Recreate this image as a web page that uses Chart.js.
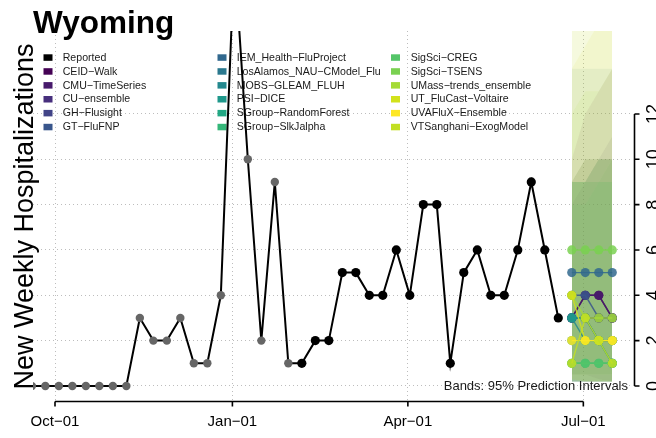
<!DOCTYPE html>
<html><head><meta charset="utf-8">
<script src="https://cdn.jsdelivr.net/npm/chart.js@4.4.1/dist/chart.umd.min.js"></script>
<style>html,body{margin:0;padding:0;background:#fff;}#wrap{width:656px;height:438px;}</style>
</head><body><div id="wrap"><canvas id="c" width="656" height="438"></canvas></div>
<script>
const regionName = "Wyoming";
const yAxisTitle = "New Weekly Hospitalizations";
const bandNote = "Bands: 95% Prediction Intervals";
const originDate = "2023-10-01";
const xTickDates = ["2023-10-01","2024-01-01","2024-04-01","2024-07-01"];
const xTickLabels = ["Oct\u221201","Jan\u221201","Apr\u221201","Jul\u221201"];
const yTicks = [0,2,4,6,8,10,12];

const reportedDates = ["2023-09-19","2023-09-26","2023-10-03","2023-10-10","2023-10-17","2023-10-24","2023-10-31","2023-11-07","2023-11-14","2023-11-21","2023-11-28","2023-12-05","2023-12-12","2023-12-19","2023-12-26","2024-01-02","2024-01-09","2024-01-16","2024-01-23","2024-01-30","2024-02-06","2024-02-13","2024-02-20","2024-02-27","2024-03-05","2024-03-12","2024-03-19","2024-03-26","2024-04-02","2024-04-09","2024-04-16","2024-04-23","2024-04-30","2024-05-07","2024-05-14","2024-05-21","2024-05-28","2024-06-04","2024-06-11","2024-06-18"];
const reportedValues = [0,0,0,0,0,0,0,0,3,2,2,3,1,1,4,19,10,2,9,1,1,2,2,5,5,4,4,6,4,8,8,1,5,6,4,4,6,9,6,3];
const firstBlackPoint = "2024-02-06";

const forecastDates = ["2024-06-25","2024-07-02","2024-07-09","2024-07-16"];
const models = ["CEID\u2212Walk","CMU\u2212TimeSeries","CU\u2212ensemble","GH\u2212Flusight","GT\u2212FluFNP","IEM_Health\u2212FluProject","LosAlamos_NAU\u2212CModel_Flu","MOBS\u2212GLEAM_FLUH","PSI\u2212DICE","SGroup\u2212RandomForest","SGroup\u2212SlkJalpha","SigSci\u2212CREG","SigSci\u2212TSENS","UMass\u2212trends_ensemble","UT_FluCast\u2212Voltaire","UVAFluX\u2212Ensemble","VTSanghani\u2212ExogModel"];
const modelColors = ["#440154","#481a6c","#472f7d","#414487","#39568c","#31688e","#2a788e","#23888e","#1f988b","#22a884","#35b779","#54c568","#7ad151","#a5db36","#d2e21b","#fde725","#c2df23"];

// point forecasts (median), one value per model, per horizon
const median_h1 = [3,3,3,3,4,5,3,3,3,2,1,1,6,4,4,2,1];
const median_h2 = [4,4,3,3,4,5,3,2,3,2,1,1,6,3,2,2,3];
const median_h3 = [4,4,3,2,3,5,2,2,2,2,1,1,6,3,2,2,2];
const median_h4 = [3,3,3,2,3,5,2,1,1,2,1,1,6,3,2,2,1];
// 95% prediction interval bounds
const lower95_h1 = [0.2,0.5,0.2,0.2,0.5,1,0.2,0.2,0.2,0.2,0.2,0.2,0.5,0.3,0.3,0.2,0.2];
const lower95_h2 = [0.2,0.5,0.2,0.2,0.5,1,0.2,0.2,0.2,0.2,0.2,0.2,0.5,0.2,0.2,0.2,0.2];
const lower95_h3 = [0.2,0.3,0.2,0.2,0.5,1,0.2,0.2,0.2,0.2,0.2,0.2,0.5,0.2,0.2,0.2,0.2];
const lower95_h4 = [0.2,0.2,0.2,0.2,0.5,1,0.2,0.2,0.2,0.2,0.2,0.2,0.5,0.2,0.2,0.2,0.2];
const upper95_h1 = [10,8,9,9,9,14,9,9,9,8,9,9,17,12,14,20,9];
const upper95_h2 = [12,9,9,10,10,14,9,9,9,8,9,9,18,13,15,22,10];
const upper95_h3 = [13,10,10,10,10,14,9,9,10,9,9,10,19,13,16,24,10];
const upper95_h4 = [14,11,10,10,10,14,9,9,10,9,10,10,20,14,17,26,10];

const FONT = '"Liberation Sans", Arial, Helvetica, sans-serif';
function dayOf(s){const p=s.split('-').map(Number);const o=originDate.split('-').map(Number);return (Date.UTC(p[0],p[1]-1,p[2])-Date.UTC(o[0],o[1]-1,o[2]))/86400000;}
function rgba(hex,a){const n=parseInt(hex.slice(1),16);return `rgba(${(n>>16)&255},${(n>>8)&255},${n&255},${a})`;}

const xTickDays = xTickDates.map(dayOf);
const fDays = forecastDates.map(dayOf);
const blackFrom = dayOf(firstBlackPoint);

const datasets = [];
datasets.push({
  label: 'Reported',
  data: reportedDates.map((d,i)=>({x:dayOf(d), y:reportedValues[i]})),
  borderColor:'#000', borderWidth:2,
  pointRadius: ctx => (ctx.raw && ctx.raw.x >= blackFrom) ? 4.6 : 4.2,
  pointBackgroundColor: ctx => (ctx.raw && ctx.raw.x >= blackFrom) ? '#000' : '#666',
  pointBorderWidth:0, pointHoverRadius:0, order:0, fill:false, tension:0
});
const meds=[median_h1,median_h2,median_h3,median_h4];
const lows=[lower95_h1,lower95_h2,lower95_h3,lower95_h4];
const ups=[upper95_h1,upper95_h2,upper95_h3,upper95_h4];
models.forEach((m,i)=>{
  datasets.push({
    label:m, data:fDays.map((d,h)=>({x:d,y:meds[h][i]})),
    borderColor:rgba(modelColors[i],0.85), borderWidth:1.4,
    pointRadius:4.6, pointBackgroundColor:rgba(modelColors[i],0.85), pointBorderWidth:0,
    order:60-i, fill:false
  });
});
models.forEach((m,i)=>{
  datasets.push({
    label:m+' upper', data:fDays.map((d,h)=>({x:d,y:ups[h][i]})),
    borderWidth:0, borderColor:'rgba(0,0,0,0)', pointRadius:0,
    backgroundColor:rgba(modelColors[i],0.085), fill:'+1', order:200-2*i
  });
  datasets.push({
    label:m+' lower', data:fDays.map((d,h)=>({x:d,y:lows[h][i]})),
    borderWidth:0, borderColor:'rgba(0,0,0,0)', pointRadius:0, fill:false, order:199-2*i
  });
});

const legendItems = [{label:'Reported',color:'#000'}].concat(models.map((m,i)=>({label:m,color:modelColors[i]})));

const decor = {
  id:'decor',
  beforeDatasetsDraw(chart){
    const ctx=chart.ctx;
    ctx.save();
    ctx.font=`10.6px ${FONT}`; ctx.textBaseline='middle'; ctx.textAlign='left';
    const colBox=[43.5,217.5,391], colText=[62.7,236.7,410.7];
    legendItems.forEach((it,k)=>{
      const c=Math.floor(k/6), r=k%6; const y=57.3+r*13.9;
      ctx.fillStyle=it.color; ctx.fillRect(colBox[c],y-3,9,6.5);
      ctx.fillStyle='#1a1a1a'; ctx.fillText(it.label,colText[c],y+0.5);
    });
    ctx.restore();
  },
  afterDatasetsDraw(chart){
    const ctx=chart.ctx, x=chart.scales.x, y=chart.scales.y, ca=chart.chartArea;
    ctx.save();
    ctx.font=`13px ${FONT}`; ctx.fillStyle='#1a1a1a'; ctx.textAlign='right'; ctx.textBaseline='middle';
    ctx.fillText(bandNote, 628, 386);
    ctx.font=`bold 31.5px ${FONT}`; ctx.fillStyle='#000'; ctx.textAlign='left'; ctx.textBaseline='alphabetic';
    ctx.fillText(regionName, 33, 33);
    ctx.save(); ctx.translate(33, (ca.top+ca.bottom)/2+1); ctx.rotate(-Math.PI/2);
    ctx.font=`27px ${FONT}`; ctx.textAlign='center'; ctx.fillStyle='#000'; ctx.fillText(yAxisTitle,0,0); ctx.restore();
    ctx.strokeStyle='#000'; ctx.lineWidth=1.6;
    const x0=x.getPixelForValue(xTickDays[0]), x1=x.getPixelForValue(xTickDays[xTickDays.length-1]);
    ctx.beginPath(); ctx.moveTo(x0,401.5); ctx.lineTo(x1,401.5);
    xTickDays.forEach(v=>{const p=x.getPixelForValue(v); ctx.moveTo(p,401.5); ctx.lineTo(p,406.5);});
    ctx.stroke();
    const ya=y.getPixelForValue(yTicks[0]), yb=y.getPixelForValue(yTicks[yTicks.length-1]);
    ctx.beginPath(); ctx.moveTo(634.5,ya); ctx.lineTo(634.5,yb);
    yTicks.forEach(v=>{const p=y.getPixelForValue(v); ctx.moveTo(634.5,p); ctx.lineTo(639.5,p);});
    ctx.stroke();
    ctx.font=`18px ${FONT}`; ctx.fillStyle='#000'; ctx.textAlign='center'; ctx.textBaseline='alphabetic';
    yTicks.forEach(v=>{const p=y.getPixelForValue(v); ctx.save(); ctx.translate(659,p); ctx.rotate(-Math.PI/2); ctx.fillText(String(v),0,0); ctx.restore();});
    ctx.restore();
  }
};

new Chart(document.getElementById('c'),{
  type:'line',
  data:{datasets},
  options:{
    responsive:false, animation:false, devicePixelRatio:1,
    layout:{padding:{left:33,top:31,right:0,bottom:0}},
    plugins:{legend:{display:false},tooltip:{enabled:false},filler:{propagate:false}},
    scales:{
      x:{type:'linear',min:-11.41,max:298.2,
        afterBuildTicks:s=>{s.ticks=xTickDays.map(v=>({value:v}));},
        afterFit:s=>{s.height=38;},
        ticks:{autoSkip:false,maxRotation:0,minRotation:0,padding:13,color:'#000',font:{family:FONT,size:15},
          callback:(v)=>{const i=xTickDays.indexOf(v);return i>=0?xTickLabels[i]:'';}},
        grid:{color:'#bdbdbd',lineWidth:1,drawTicks:false},
        border:{display:false,dash:[1,3]}
      },
      y:{type:'linear',position:'right',min:-0.62,max:15.66,
        afterBuildTicks:s=>{s.ticks=yTicks.map(v=>({value:v}));},
        afterFit:s=>{s.width=26;},
        ticks:{display:false},
        grid:{color:'#bdbdbd',lineWidth:1,drawTicks:false},
        border:{display:false,dash:[1,3]}
      }
    }
  },
  plugins:[decor]
});
</script></body></html>
